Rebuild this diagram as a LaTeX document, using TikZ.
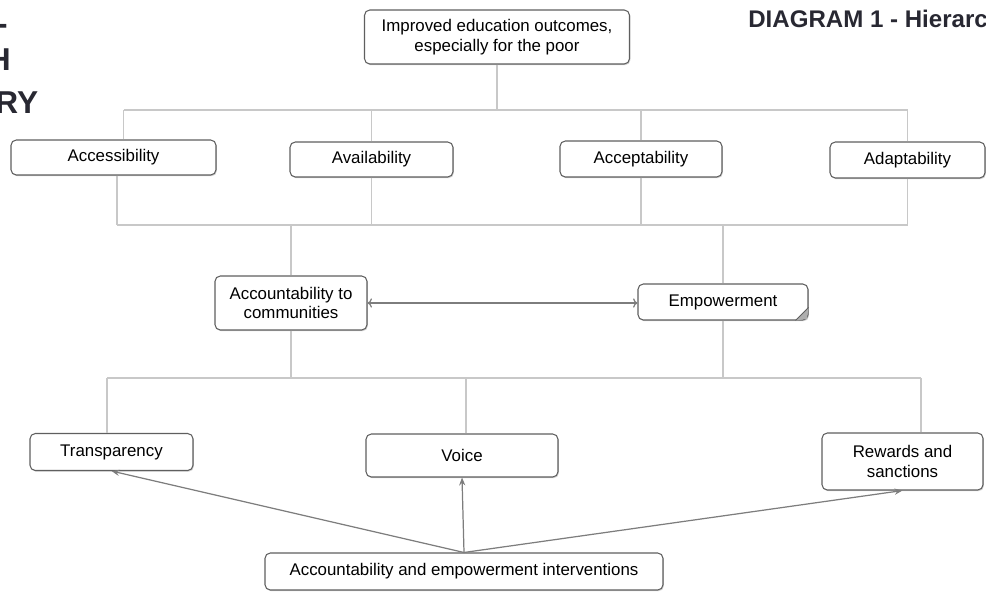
\documentclass[tikz,border=0pt]{standalone}
\usepackage{fontspec}
\setmainfont{Liberation Sans}
\usetikzlibrary{arrows.meta, positioning, calc, shadows}
\definecolor{boxline}{RGB}{95,95,95}
\definecolor{treeline}{RGB}{200,200,200}
\definecolor{arrline}{RGB}{125,125,125}
\definecolor{foldgray}{RGB}{175,175,175}
\definecolor{headtext}{RGB}{40,40,50}
\tikzset{
  box/.style={rectangle, draw=boxline, fill=white, rounded corners=3pt,
    line width=0.6pt, align=center, inner sep=0pt,
    font=\fontsize{9.6}{11}\selectfont,
    drop shadow={shadow xshift=0.5pt, shadow yshift=-0.7pt, fill=black!35}},
  tree/.style={draw=treeline, line width=0.8pt},
  arrow/.style={-{Stealth[length=4.5pt,width=3.5pt]}, draw=arrline, line width=0.7pt},
  dblarrow/.style={{To[length=2.5pt]}-{To[length=2.5pt]}, draw=arrline, line width=0.7pt},
  headline/.style={font=\fontsize{18}{20}\selectfont\bfseries, text=headtext, inner sep=0pt, anchor=base east}
}

\begin{document}
\begin{tikzpicture}
  \useasboundingbox (0,0) rectangle (19.72,-11.86);
  \clip (0,0) rectangle (19.72,-11.86);
  % Cut-off headings
  \node[headline] (headA) at (0.16,-0.68) {-};
  \node[headline] (headB) at (0.22,-1.40) {H};
  \node[headline] (headC) at (0.77,-2.26) {RY};
  \node[font=\fontsize{13.7}{15}\selectfont\bfseries, text=headtext, inner sep=0pt, anchor=base west] (title) at (14.96,-0.54) {DIAGRAM 1 - Hierarchy};
  % Goal
  \node[box, minimum width=5.3cm, minimum height=1.08cm] (goal) at (9.94,-0.74) {Improved education outcomes,\\especially for the poor};
  % The four A's
  \node[box, minimum width=4.1cm, minimum height=0.7cm] (access) at (2.27,-3.15) {Accessibility};
  \node[box, minimum width=3.26cm, minimum height=0.7cm] (avail) at (7.43,-3.19) {Availability};
  \node[box, minimum width=3.24cm, minimum height=0.72cm] (accept) at (12.82,-3.18) {Acceptability};
  \node[box, minimum width=3.1cm, minimum height=0.72cm] (adapt) at (18.15,-3.2) {Adaptability};
  % Middle level
  \node[box, minimum width=3.04cm, minimum height=1.08cm] (account) at (5.82,-6.06) {Accountability to\\communities};
  \node[box, minimum width=3.4cm, minimum height=0.72cm] (empower) at (14.46,-6.04) {Empowerment};
  \fill[foldgray] ([xshift=-0.26cm]empower.south east) -- ([yshift=0.26cm]empower.south east) -- ([xshift=-1pt,yshift=1pt]empower.south east) -- cycle;
  \draw[boxline, line width=0.5pt] ([xshift=-0.26cm]empower.south east) -- ([yshift=0.26cm]empower.south east);
  % Mechanisms
  \node[box, minimum width=3.26cm, minimum height=0.74cm] (transp) at (2.23,-9.04) {Transparency};
  \node[box, minimum width=3.84cm, minimum height=0.86cm] (voice) at (9.24,-9.11) {Voice};
  \node[box, minimum width=3.22cm, minimum height=1.14cm] (reward) at (18.05,-9.23) {Rewards and\\sanctions};
  \node[box, minimum width=7.96cm, minimum height=0.74cm] (interv) at (9.28,-11.43) {Accountability and empowerment interventions};
  % Tree lines
  \coordinate (barA) at (0,-2.2);
  \coordinate (barB) at (0,-4.5);
  \coordinate (barC) at (0,-7.56);
  \draw[tree] (goal.south) -- (goal.south |- barA);
  \draw[tree] ([xshift=0.2cm]access.north |- barA) -- (adapt.north |- barA);
  \draw[tree] ([xshift=0.2cm]access.north) -- ([xshift=0.2cm]access.north |- barA);
  \draw[tree] (avail.north) -- (avail.north |- barA);
  \draw[tree] (accept.north) -- (accept.north |- barA);
  \draw[tree] (adapt.north) -- (adapt.north |- barA);
  \draw[tree] ([xshift=0.07cm]access.south |- barB) -- (adapt.south |- barB);
  \draw[tree] ([xshift=0.07cm]access.south) -- ([xshift=0.07cm]access.south |- barB);
  \draw[tree] (avail.south) -- (avail.south |- barB);
  \draw[tree] (accept.south) -- (accept.south |- barB);
  \draw[tree] (adapt.south) -- (adapt.south |- barB);
  \draw[tree] (account.north) -- (account.north |- barB);
  \draw[tree] (empower.north) -- (empower.north |- barB);
  \draw[tree] (account.south) -- (account.south |- barC);
  \draw[tree] (empower.south) -- (empower.south |- barC);
  \draw[tree] ([xshift=-0.09cm]transp.north |- barC) -- ([xshift=0.37cm]reward.north |- barC);
  \draw[tree] ([xshift=-0.09cm]transp.north) -- ([xshift=-0.09cm]transp.north |- barC);
  \draw[tree] ([xshift=0.08cm]voice.north) -- ([xshift=0.08cm]voice.north |- barC);
  \draw[tree] ([xshift=0.37cm]reward.north) -- ([xshift=0.37cm]reward.north |- barC);
  % Arrows
  \draw[dblarrow] (account.east) -- (empower.west |- account.east);
  \draw[arrow] (interv.north) -- (transp.south);
  \draw[arrow] (interv.north) -- (voice.south);
  \draw[arrow] (interv.north) -- (reward.south);
\end{tikzpicture}
\end{document}
